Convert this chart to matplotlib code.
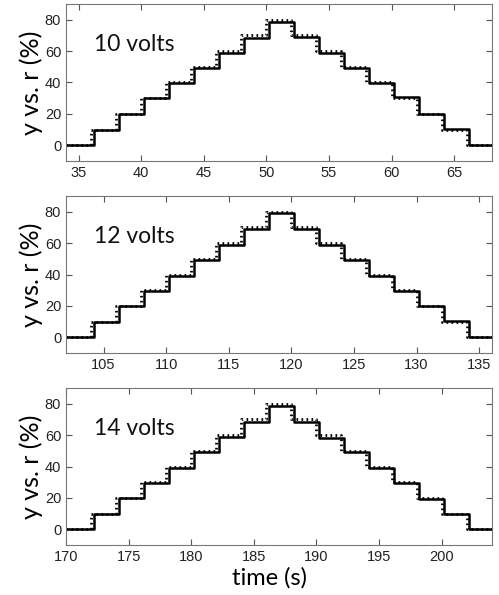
import matplotlib
matplotlib.use('Agg')
import matplotlib.pyplot as plt
import numpy as np

# reference steps, in %
r_levels = [0, 10, 20, 30, 40, 50, 60, 70, 80, 70, 60, 50, 40, 30, 20, 10, 0]

y_10v = [0, 10, 20, 30, 39.5, 49.5, 58.5, 68.5, 78.5, 69, 59, 49.5, 39.5, 30.5, 20, 10.5, 0]
y_12v = [0, 10, 20, 29.5, 39, 49.5, 58.5, 69, 79, 69, 58.5, 49, 39, 29.5, 20, 10.5, 0.5]
y_14v = [0, 10, 20, 29.5, 39, 49.5, 58.5, 68.5, 78.5, 68.5, 58, 49, 39, 29.5, 19.5, 10, 0]

# per panel: label, x limits, time of first step, response lag (s)
labels = ['10 volts', '12 volts', '14 volts']
xlims = [(34, 68), (102, 136), (170, 204)]
first_step = [36, 104, 172]
lags = [0.2, 0.2, 0.2]
responses = [y_10v, y_12v, y_14v]
step_period = 2

fig = plt.figure(figsize=(4.99, 5.95), dpi=100)
bottoms = [0.7294, 0.4067, 0.0840]

for i in range(3):
    ax = fig.add_axes([0.1323, bottoms[i], 0.853, 0.2639])
    x0, x1 = xlims[i]
    t_steps = [first_step[i] + k * step_period for k in range(len(r_levels) - 1)]

    # reference r: dotted staircase
    tr = [x0] + t_steps + [x1]
    rr = r_levels + [r_levels[-1]]
    ax.step(tr, rr, where='post', color='black', lw=2.0, ls=(0, (0.6, 1.2)))

    # response y: lags the reference slightly
    ty = [x0] + [t + lags[i] for t in t_steps] + [x1]
    yy = responses[i] + [responses[i][-1]]
    ax.step(ty, yy, where='post', color='black', lw=1.8)

    ax.set_xlim(x0, x1)
    ax.set_ylim(-10, 90)
    ax.set_yticks([0, 20, 40, 60, 80])
    ax.set_xticks(np.arange(np.ceil(x0 / 5) * 5, x1, 5))
    ax.tick_params(direction='in', top=True, right=True, length=4,
                   width=0.8, color='#555555', labelsize=10.5,
                   labelcolor='#222222')
    for lab in ax.get_xticklabels() + ax.get_yticklabels():
        lab.set_fontfamily('Liberation Sans')
    for sp in ax.spines.values():
        sp.set_color('#777777')
        sp.set_linewidth(0.8)

    ax.set_ylabel('y vs. r (%)', fontsize=18, family='Lato', labelpad=1)
    ax.text(x0 + 2.2, 64, labels[i], fontsize=16.5, family='Lato',
            ha='left', va='center', color='#111111')

    if i == 2:
        ax.set_xlabel('time (s)', fontsize=17, family='Lato', labelpad=2,
                      x=0.477)

fig.savefig('out.png', dpi=100)
